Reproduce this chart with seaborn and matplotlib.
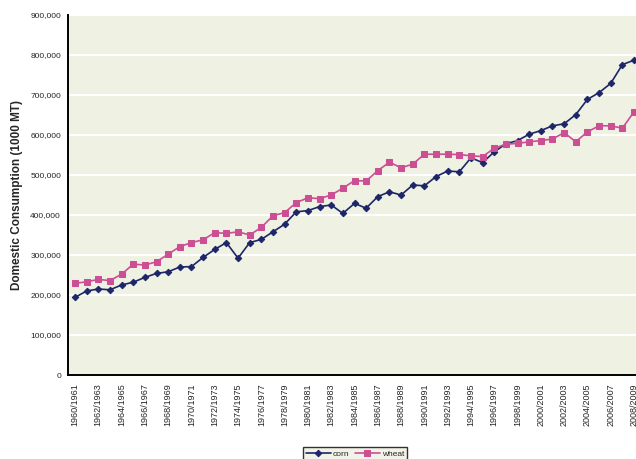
import matplotlib
matplotlib.use("Agg")
import matplotlib.pyplot as plt
import pandas as pd
import seaborn as sns
from matplotlib.ticker import FuncFormatter, MultipleLocator

# Marketing years 1960/1961 ... 2008/2009
start_years = list(range(1960, 2009))
year_labels = [f"{y}/{y + 1}" for y in start_years]

# Domestic consumption, 1000 metric tons
corn = [194000, 210000, 215000, 213000, 225000, 232000, 244000, 254000, 258000, 270000,
        271000, 294000, 314000, 331000, 292000, 331000, 339000, 358000, 377000, 408000,
        411000, 421000, 425000, 404000, 429000, 417000, 446000, 458000, 450000, 475000,
        473000, 496000, 510000, 508000, 543000, 531000, 558000, 578000, 586000, 602000,
        611000, 623000, 628000, 651000, 689000, 706000, 729000, 776000, 787000]
wheat = [229000, 233000, 239000, 236000, 252000, 277000, 275000, 283000, 302000, 321000,
         331000, 338000, 356000, 354000, 358000, 350000, 369000, 398000, 406000, 431000,
         443000, 441000, 450000, 467000, 486000, 485000, 511000, 532000, 518000, 527000,
         552000, 552000, 552000, 551000, 548000, 546000, 567000, 577000, 579000, 583000,
         586000, 590000, 606000, 583000, 608000, 623000, 623000, 617000, 658000]

series_names = ["corn", "wheat"]
colors = {"corn": "#1c2668", "wheat": "#cc4f93"}
markers = {"corn": "D", "wheat": "s"}
marker_sizes = {"corn": 3.3, "wheat": 4.6}

df = pd.DataFrame({"pos": range(len(start_years)), "corn": corn, "wheat": wheat})
long_df = df.melt(id_vars="pos", value_vars=series_names, var_name="crop", value_name="consumption")

sns.set_style("white", {"axes.facecolor": "#eff1e3"})
plt.rcParams["font.family"] = ["Liberation Sans", "DejaVu Sans"]

fig = plt.figure(figsize=(6.36, 4.59), dpi=100)
ax = fig.add_axes([68 / 636, 84 / 459, 1 - 68 / 636, 360 / 459])

for name in series_names:
    sub = long_df[long_df["crop"] == name]
    sns.lineplot(data=sub, x="pos", y="consumption", ax=ax, color=colors[name],
                 marker=markers[name], markersize=marker_sizes[name],
                 markeredgecolor=colors[name], linewidth=1.2, label=name,
                 legend=False, zorder=3)

ax.set_xlim(-0.6, 48.17)
ax.set_ylim(0, 900000)
ax.yaxis.set_major_locator(MultipleLocator(100000))
ax.yaxis.set_major_formatter(FuncFormatter(lambda v, p: f"{int(v):,}"))
ax.grid(axis="y", color="white", linewidth=1.4)
ax.grid(axis="x", visible=False)
ax.set_axisbelow(True)

ax.set_xticks(range(len(start_years)))
ax.set_xticklabels([lab if i % 2 == 0 else "" for i, lab in enumerate(year_labels)],
                   rotation=90, fontsize=6.5)
ax.tick_params(axis="x", direction="out", length=3, width=0.8, color="black", pad=3)
ax.tick_params(axis="y", direction="out", length=3, width=0.8, color="black",
               labelsize=6, pad=2)

for side in ["top", "right"]:
    ax.spines[side].set_visible(False)
for side in ["left", "bottom"]:
    ax.spines[side].set_color("black")
    ax.spines[side].set_linewidth(1.4)

ax.set_xlabel("")
ax.set_ylabel("Domestic Consumption (1000 MT)", fontsize=8.5, fontweight="bold", labelpad=5)

handles, labels = ax.get_legend_handles_labels()
leg = fig.legend(handles, labels, loc="upper center", bbox_to_anchor=(355 / 636, 16 / 459),
                 ncol=2, fontsize=6, frameon=True, fancybox=False, edgecolor="black",
                 handlelength=3, columnspacing=0.6, handletextpad=0.3, borderpad=0.3)
leg.get_frame().set_linewidth(1.0)

fig.savefig("out.png", dpi=100, facecolor="white")
